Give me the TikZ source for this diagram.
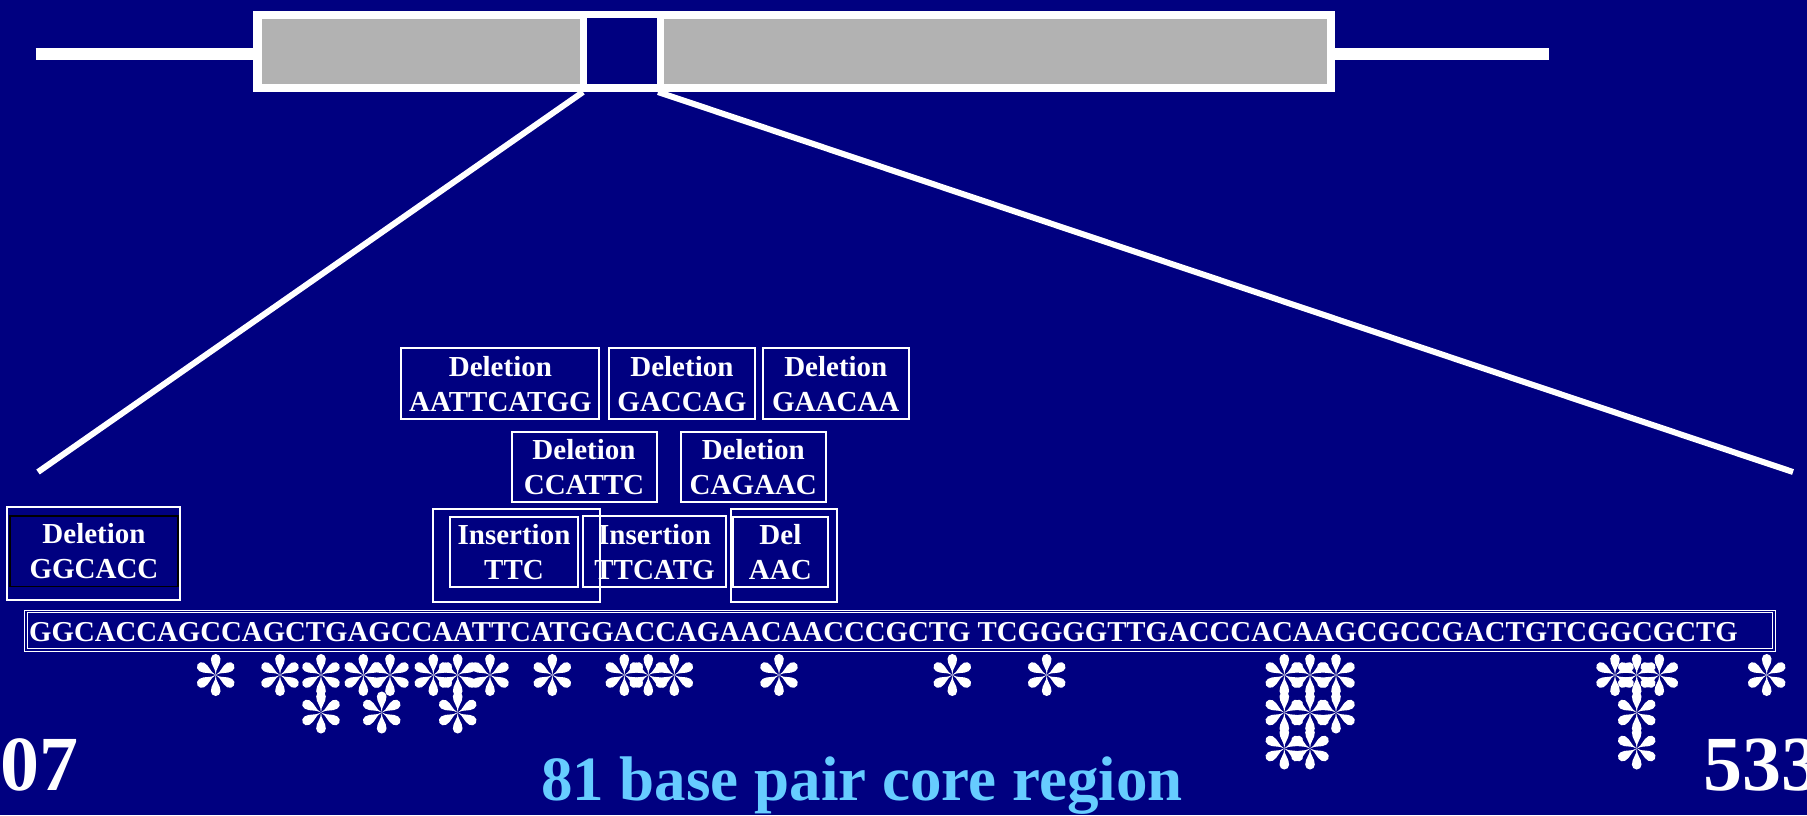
\documentclass[tikz,border=0pt]{standalone}
\usepackage{fontspec}
\setmainfont{Liberation Serif}
\definecolor{navy}{RGB}{0,0,128}
\definecolor{genegray}{RGB}{178,178,178}
\definecolor{lightblue}{RGB}{102,204,255}
\tikzset{
  lbl/.style={rectangle, draw=white, line width=2pt, text=white, align=center, inner sep=0pt,
    font=\fontsize{29}{35}\selectfont\bfseries},
  seqtext/.style={anchor=base west, inner sep=0pt, text=white, font=\fontsize{28.8}{35}\selectfont\bfseries},
  bignum/.style={anchor=base west, inner sep=0pt, text=white, font=\fontsize{78}{78}\selectfont\bfseries},
  zoomline/.style={white, line width=6pt},
  geneline/.style={white, line width=12.3pt},
  ast/.pic={\foreach \a in {0,60,...,300}{
      \fill[white,rotate=\a] (0,0) .. controls (0,7) and (-4.8,9.5) .. (-4.8,16.2)
        arc[start angle=180,end angle=0,radius=4.8] .. controls (4.8,9.5) and (0,7) .. (0,0) -- cycle;}}
}
\begin{document}
\begin{tikzpicture}[x=1pt,y=-1pt]
\fill[navy] (0,0) rectangle (1807,815);
\useasboundingbox (0,0) rectangle (1807,815);

% gene structure
\coordinate (gl1) at (35.6,53.8);
\coordinate (gl2) at (253,53.8);
\coordinate (gr1) at (1334,53.8);
\coordinate (gr2) at (1549,53.8);
\draw[geneline] (gl1) -- (gl2);
\draw[geneline] (gr1) -- (gr2);
\fill[white] (252.6,10.7) rectangle (1334.6,92.3);
\fill[genegray] (262.3,19.3) rectangle (579.8,84.3);
\fill[navy] (586.7,18.3) rectangle (657.3,84.3);
\fill[genegray] (664.2,19.3) rectangle (1326.5,84.3);

% zoom lines
\coordinate (zl1) at (583,92);
\coordinate (zl2) at (38,472);
\coordinate (zr1) at (658,92);
\coordinate (zr2) at (1793,472);
\draw[zoomline] (zl1) -- (zl2);
\draw[zoomline] (zr1) -- (zr2);

% mutation boxes
\node[lbl, minimum width=197.9pt, minimum height=71pt] (delA) at (500.4,383.8) {Deletion\\AATTCATGG};
\node[lbl, minimum width=145.7pt, minimum height=71pt] (delB) at (681.9,383.8) {Deletion\\GACCAG};
\node[lbl, minimum width=145.6pt, minimum height=71pt] (delC) at (835.8,383.8) {Deletion\\GAACAA};
\node[lbl, minimum width=145pt, minimum height=70.6pt] (delD) at (584,467) {Deletion\\CCATTC};
\node[lbl, minimum width=145.4pt, minimum height=70.6pt] (delE) at (753.3,467) {Deletion\\CAGAAC};

\node[lbl, minimum width=166.3pt, minimum height=92.7pt] (insOuter) at (516.6,555.4) {};
\node[lbl, minimum width=128pt, minimum height=70.6pt] (insTTC) at (514,552) {Insertion\\TTC};
\node[lbl, minimum width=143.9pt, minimum height=71.3pt] (insTTCATG) at (654.5,551.7) {Insertion\\TTCATG};
\node[lbl, minimum width=106pt, minimum height=92.7pt] (delOuter) at (783.6,555.4) {};
\node[lbl, minimum width=94.7pt, minimum height=70.6pt] (delAAC) at (780.4,552) {Del\\AAC};

\node[lbl, minimum width=173pt, minimum height=92.7pt] (ggOuter) at (93.8,553.7) {};
\node[lbl, draw=black, line width=1.5pt, minimum width=168pt, minimum height=70.7pt] (delGG) at (94,551.3) {Deletion\\GGCACC};

% sequence
\node[rectangle, draw=white, double=navy, double distance=1.5pt, line width=1pt, inner sep=0pt,
  minimum width=1748pt, minimum height=38.3pt] (seqbox) at (899.9,630.85) {};
\node[seqtext] (seq) at (29,641.5) {GGCACCAGCCAGCTGAGCCAATTCATGGACCAGAACAACCCGCTG TCGGGGTTGACCCACAAGCGCCGACTGTCGGCGCTG};

% asterisks
\foreach \x in {215.7,280,321,363.3,390,433.3,457.7,490,552.3,624.3,648.3,674.3,779,952.3,1046.7,1284.3,1310,1336,1615,1636.7,1659.3,1766.7}
  \pic at (\x,675) {ast};
\foreach \x in {321,381.7,457.7,1284.3,1310,1336,1636.7}
  \pic at (\x,712.5) {ast};
\foreach \x in {1284.3,1310,1636.7}
  \pic at (\x,748.5) {ast};

% labels
\node[bignum] (startpos) at (0,790) {07};
\node[bignum] (endpos) at (1703,790) {533};
\node[anchor=base west, inner sep=0pt, text=lightblue, font=\fontsize{63}{63}\selectfont\bfseries] (core) at (541,800) {81 base pair core region};
\end{tikzpicture}
\end{document}
